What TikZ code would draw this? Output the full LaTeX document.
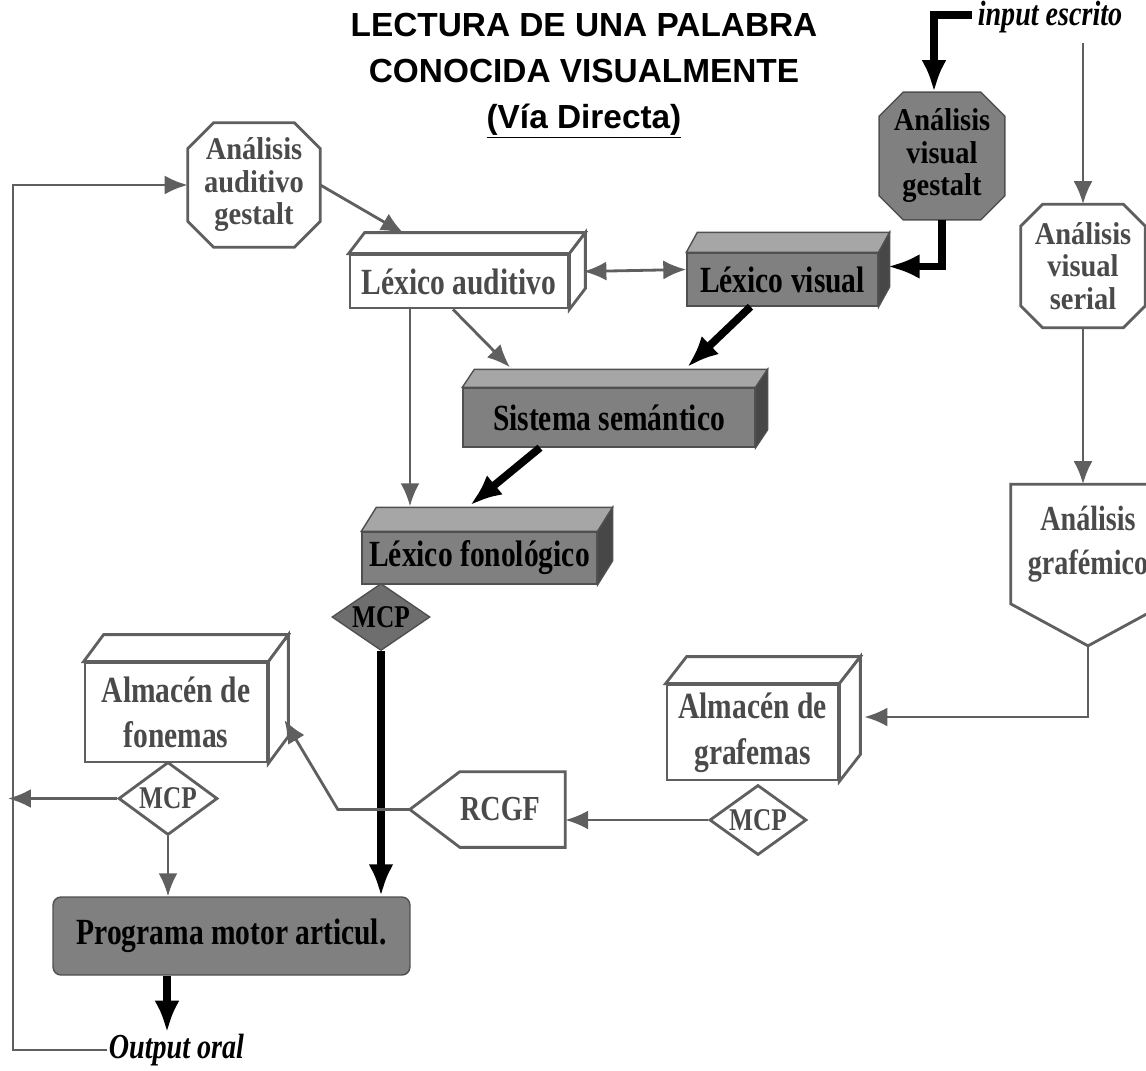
\documentclass[tikz,border=0pt]{standalone}
\usepackage{fontspec}
\usepackage{tikz}
\usetikzlibrary{arrows.meta,calc,shapes.geometric,backgrounds}
\newfontfamily\letranodo[FakeStretch=0.8]{Liberation Serif}
\newfontfamily\letraocto[FakeStretch=0.9]{Liberation Serif}
\newfontfamily\letratitulo{Liberation Sans}
\definecolor{grislinea}{HTML}{5F5F5F}
\definecolor{gristexto}{HTML}{4A4A4A}
\definecolor{grismedio}{HTML}{808080}
\definecolor{gristapa}{HTML}{A6A6A6}
\definecolor{grislado}{HTML}{474747}
\definecolor{grisrombo}{HTML}{6E6E6E}
\definecolor{grisborde}{HTML}{505050}

% caras de arriba y del lado de una caja
\newcommand{\cajatres}[4]{%
  \filldraw[tapa #4] (#1.north west) -- ++(#2,-#3) -- ($(#1.north east)+(#2,-#3)$) -- (#1.north east) -- cycle;
  \filldraw[lado #4] (#1.north east) -- ++(#2,-#3) -- ($(#1.south east)+(#2,-#3)$) -- (#1.south east) -- cycle;
}
% octogono alrededor de un nodo
\newcommand{\octogono}[3]{%
  \filldraw[#3] ($(#1.north west)+(#2,0)$) -- ($(#1.north east)+(-#2,0)$) -- ($(#1.north east)+(0,#2)$)
    -- ($(#1.south east)+(0,-#2)$) -- ($(#1.south east)+(-#2,0)$) -- ($(#1.south west)+(#2,0)$)
    -- ($(#1.south west)+(0,-#2)$) -- ($(#1.north west)+(0,#2)$) -- cycle;
}

\begin{document}
\begin{tikzpicture}[x=0.02cm, y=-0.02cm]
\useasboundingbox (0,0) rectangle (1146,1071);
\tikzstyle{titulo}=[align=center, inner sep=0pt, font={\letratitulo\bfseries\fontsize{19}{26.2}\selectfont}]
\tikzstyle{rotulo}=[inner sep=1pt, font={\letranodo\bfseries\itshape\fontsize{20}{24}\selectfont}]
\tikzstyle{caja blanca}=[rectangle, draw=grislinea, line width=1.6pt, fill=white, inner sep=0pt, align=center, text=gristexto, font={\letranodo\bfseries\fontsize{21}{26}\selectfont}]
\tikzstyle{caja gris}=[rectangle, draw=grisborde, line width=0.8pt, fill=grismedio, inner sep=0pt, align=center, text=black, font={\letranodo\bfseries\fontsize{21}{26}\selectfont}]
\tikzstyle{octo}=[rectangle, inner sep=0pt, align=center, font={\letraocto\bfseries\fontsize{18}{18.5}\selectfont}]
\tikzstyle{punta blanca}=[rectangle, inner sep=0pt, align=center, text=gristexto, font={\letranodo\bfseries\fontsize{20}{25}\selectfont}]
\tikzstyle{rombo blanco}=[diamond, aspect=1.46, inner sep=0pt, draw=grislinea, line width=1.6pt, fill=white, text=gristexto, font={\letranodo\bfseries\fontsize{18}{20}\selectfont}]
\tikzstyle{rombo gris}=[diamond, aspect=1.46, inner sep=0pt, draw=grisborde, line width=0.8pt, fill=grisrombo, text=black, font={\letranodo\bfseries\fontsize{18}{20}\selectfont}]
\tikzstyle{tapa blanca}=[fill=white, draw=grislinea, line width=1.6pt]
\tikzstyle{lado blanca}=[fill=white, draw=grislinea, line width=1.6pt]
\tikzstyle{tapa gris}=[fill=gristapa, draw=grisborde, line width=0.8pt]
\tikzstyle{lado gris}=[fill=grislado, draw=grisborde, line width=0.8pt]
\tikzstyle{octo blanco}=[fill=white, draw=grislinea, line width=1.6pt]
\tikzstyle{octo gris}=[fill=grismedio, draw=grisborde, line width=0.8pt]
\tikzstyle{flecha}=[draw=grislinea, line width=1.6pt, -{Latex[length=0.46cm,width=0.38cm]}]
\tikzstyle{flecha doble}=[draw=grislinea, line width=1.6pt, {Latex[length=0.46cm,width=0.38cm]}-{Latex[length=0.46cm,width=0.38cm]}]
\tikzstyle{gruesa}=[draw=black, line width=4.4pt, -{Latex[length=0.64cm,width=0.5cm]}]

\node[titulo] (titulo) at (584,76) {LECTURA DE UNA PALABRA\\CONOCIDA VISUALMENTE\\\underline{(Vía Directa)}};
\node[rotulo] (entrada) at (1050,17) {input escrito};
\node[octo, text=black, minimum width=2.5cm, minimum height=2.54cm] (visgest) at (942,156) {Análisis\\visual\\gestalt};
\node[octo, text=gristexto, minimum width=2.48cm, minimum height=2.46cm] (visserial) at (1083,266) {Análisis\\visual\\serial};
\node[octo, text=gristexto, minimum width=2.64cm, minimum height=2.48cm] (audgest) at (254,185) {Análisis\\auditivo\\gestalt};
\node[caja blanca, minimum width=4.36cm, minimum height=1.06cm] (lexaud) at (459,281.5) {Léxico auditivo};
\node[caja gris, minimum width=3.82cm, minimum height=1.06cm] (lexvis) at (782.5,279.5) {Léxico visual};
\node[caja gris, minimum width=5.84cm, minimum height=1.18cm] (semant) at (609,417.5) {Sistema semántico};
\node[caja gris, minimum width=4.7cm, minimum height=1.04cm] (lexfon) at (479.5,558) {Léxico fonológico};
\node[rombo gris, minimum width=1.96cm, minimum height=1.34cm] (mcpfon) at (381,617) {MCP};
\node[caja blanca, minimum width=3.64cm, minimum height=1.98cm] (fonemas) at (176,712.5) {Almacén de\\fonemas};
\node[rombo blanco, minimum width=1.98cm, minimum height=1.46cm] (mcpfonemas) at (168,798.5) {MCP};
\node[caja gris, rounded corners=.16cm, minimum width=7.14cm, minimum height=1.56cm] (programa) at (231.5,936) {Programa motor articul.};
\node[rotulo] (salida) at (176.5,1050) {Output oral};
\node[caja blanca, minimum width=3.42cm, minimum height=1.9cm] (grafemas) at (752.5,732.5) {Almacén de\\grafemas};
\node[rombo blanco, minimum width=1.94cm, minimum height=1.4cm] (mcpgraf) at (758,820) {MCP};
\node[punta blanca, minimum width=2.06cm, minimum height=1.5cm] (rcgf) at (512.5,809.5) {RCGF\hspace*{.5cm}};
\node[punta blanca, minimum width=3.08cm, minimum height=2.38cm] (grafemico) at (1088,544) {Análisis\\grafémico};
\coordinate (rcgfpunta) at ($(rcgf.west)+(-50,0)$);
\coordinate (grafpunta) at ($(grafemico.south)+(0,42)$);
\coordinate (bucle) at (13,600);
\coordinate (finizq) at (8,798.5);

% via auditiva
\draw[flecha] (salida.west) -| (bucle) |- (audgest.west);
\draw[flecha] (mcpfonemas.west) -- (finizq);
\draw[flecha] (audgest.east) -- ($(lexaud.north)+(-55,-20)$);
\draw[flecha doble] ($(lexaud.east)+(14,-10)$) -- ($(lexvis.west)+(0,-10)$);
\draw[flecha] ($(lexaud.south)+(-6,0)$) -- ($(semant.north)+(-99,-20)$);
\draw[flecha] ($(lexaud.south)+(-49,0)$) -- ($(lexfon.north)+(-69.5,-25)$);
% via directa
\draw[gruesa] ($(entrada.west)+(-4,-2)$) -| ($(visgest.north)+(-8,0)$);
\draw[gruesa] (visgest.south) |- ($(lexvis.east)+(9,-13)$);
\draw[gruesa] ($(lexvis.south)+(-32,0)$) -- ($(semant.north)+(78,-20)$);
\draw[gruesa] ($(semant.south)+(-69,0)$) -- ($(lexfon.north)+(-9.5,-26)$);
\draw[gruesa] (mcpfon.south) -- (mcpfon.south |- programa.north);
\draw[gruesa] ($(programa.south)+(-64.5,0)$) -- ++(0,57);
\draw[flecha] (mcpfonemas.south) -- (mcpfonemas.south |- programa.north);
% via subléxica
\draw[flecha] ($(entrada.south -| visserial.north)+(0,8)$) -- (visserial.north);
\draw[flecha] (visserial.south) -- (visserial.south |- grafemico.north);
\draw[flecha] (grafpunta) |- ($(grafemas.east)+(25,-15.5)$);
\draw[flecha] (mcpgraf.west) -- (mcpgraf.west -| rcgf.east);
\draw[flecha] (rcgfpunta) -- ++(-72,0) -- ($(fonemas.east)+(16,7.5)$);

\begin{scope}[on background layer]
\fill[white] (0,0) rectangle (1146,1071);
\octogono{audgest}{26}{octo blanco}
\octogono{visgest}{24}{octo gris}
\octogono{visserial}{22}{octo blanco}
\cajatres{lexaud}{16}{21}{blanca}
\cajatres{lexvis}{11}{20}{gris}
\cajatres{semant}{12}{18}{gris}
\cajatres{lexfon}{15}{24}{gris}
\cajatres{fonemas}{20}{27}{blanca}
\cajatres{grafemas}{21}{27}{blanca}
\filldraw[octo blanco] (rcgf.north west) -- (rcgf.north east) -- (rcgf.south east) -- (rcgf.south west) -- (rcgfpunta) -- cycle;
\filldraw[octo blanco] (grafemico.north west) -- (grafemico.north east) -- (grafemico.south east) -- (grafpunta) -- (grafemico.south west) -- cycle;
\end{scope}
\end{tikzpicture}
\end{document}
